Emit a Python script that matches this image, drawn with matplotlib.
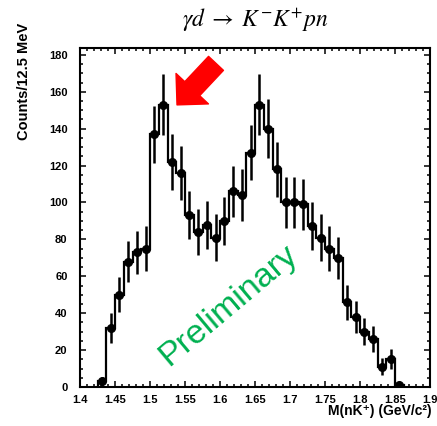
import numpy as np
import matplotlib
matplotlib.use("Agg")
import matplotlib.pyplot as plt
from matplotlib.ticker import MultipleLocator

# histogram: M(nK+) in 12.5 MeV bins
bin_lo = 1.425
bin_width = 0.0125
counts = [3, 32, 50, 68, 73, 75, 137, 153, 122, 116, 93, 84, 88, 81, 90, 106, 104, 127,
          153, 140, 118, 100, 100, 99, 87, 81, 75, 70, 46, 38, 30, 26, 11, 15, 1]
errors = [2.5, 8, 9.5, 11, 11.5, 12, 15.5, 16.5, 15, 14.5, 13, 12.5, 13, 12.5, 13, 14, 14, 15,
          16.5, 16, 15, 14, 14, 14, 13, 12.5, 12, 11.5, 9.5, 8.5, 7.5, 7, 4.5, 5.5, 1.5]

x_ticks = [1.4, 1.45, 1.5, 1.55, 1.6, 1.65, 1.7, 1.75, 1.8, 1.85, 1.9]
y_ticks = [0, 20, 40, 60, 80, 100, 120, 140, 160, 180]

counts = np.array(counts, dtype=float)
errors = np.array(errors, dtype=float)
edges = bin_lo + bin_width * np.arange(len(counts) + 1)
centers = 0.5 * (edges[:-1] + edges[1:])

plt.rcParams['mathtext.fontset'] = 'stix'
sans = ['Liberation Sans', 'DejaVu Sans']

fig = plt.figure(figsize=(4.37, 4.26), dpi=100)
W, H = 437.0, 426.0
ax = fig.add_axes([80 / W, 1 - 387 / H, 350 / W, 339.5 / H])

ax.stairs(counts, edges, baseline=0, color='black', linewidth=1.6, zorder=2)
ax.errorbar(centers, counts, yerr=errors, fmt='o', color='black', markersize=5.5,
            elinewidth=1.8, capsize=0, zorder=3)

ax.set_xlim(1.4, 1.9)
ax.set_ylim(0, 184)
ax.set_xticks(x_ticks)
ax.set_yticks(y_ticks)
ax.set_xticklabels([f"{v:g}" for v in x_ticks])
ax.xaxis.set_minor_locator(MultipleLocator(0.01))
ax.yaxis.set_minor_locator(MultipleLocator(5))
ax.tick_params(which='both', direction='in', top=True, right=True, width=1.1)
ax.tick_params(which='major', length=4.3)
ax.tick_params(which='minor', length=2.5)
ax.tick_params(axis='y', which='major', pad=9)
ax.tick_params(axis='x', which='major', pad=6)
for lab in ax.get_xticklabels() + ax.get_yticklabels():
    lab.set_family(sans)
    lab.set_fontweight('bold')
    lab.set_fontsize(8)
for sp in ax.spines.values():
    sp.set_linewidth(1.5)

# big red arrow pointing at the first peak
ax.annotate('', xy=(1.5386, 152.9), xytext=(1.5943, 175.4),
            arrowprops=dict(arrowstyle='simple,head_length=1.0,head_width=2.0,tail_width=0.92',
                            color='red', shrinkA=0, shrinkB=0, mutation_scale=16),
            zorder=4)

ax.text(1.6114, 44.3, 'Preliminary', color='#00B050', fontsize=24.5, family=sans,
        rotation=40, ha='center', va='center', rotation_mode='anchor', zorder=1)

fig.text(255 / W, 1 - 20 / H, r'$\gamma d\;\rightarrow\;K^{-}K^{+}pn$', fontsize=17,
         ha='center', va='center')
fig.text(24 / W, 1 - 81 / H, 'Counts/12.5 MeV', rotation=90, ha='center', va='center',
         fontsize=10.5, fontweight='bold', family=sans)
fig.text(432 / W, 1 - 411 / H, 'M(nK\u207a) (GeV/c\u00b2)', ha='right', va='center',
         fontsize=10, fontweight='bold', family=sans)

fig.savefig('out.png', dpi=100)
